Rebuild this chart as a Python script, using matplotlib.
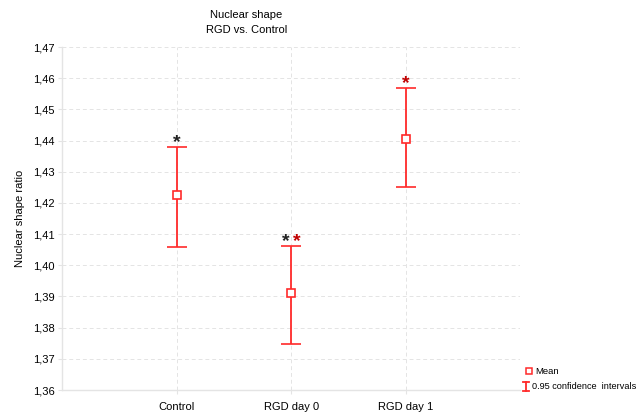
import numpy as np
import matplotlib
matplotlib.use("Agg")
import matplotlib.pyplot as plt
from matplotlib.ticker import FuncFormatter

plt.rcParams['font.family'] = ['Liberation Sans', 'DejaVu Sans']

# values
groups = ["Control", "RGD day 0", "RGD day 1"]
means = [1.4226, 1.3912, 1.4405]
ci_low = [1.4060, 1.3748, 1.4251]
ci_high = [1.4378, 1.4063, 1.4568]
# significance marks above each group: (text, colour)
marks = [[("*", "#222222")],
         [("*", "#222222"), ("*", "#c00000")],
         [("*", "#c00000")]]
y_ticks = [1.36, 1.37, 1.38, 1.39, 1.40, 1.41, 1.42, 1.43, 1.44, 1.45, 1.46, 1.47]

RED = "#ff2a2a"
GRID = "#e4e4e4"

fig = plt.figure(figsize=(6.43, 4.16), dpi=100)
ax = fig.add_axes([0.0964, 0.0625, 0.713, 0.8245])

x = np.arange(len(groups))
m = np.array(means)
yerr = [m - np.array(ci_low), np.array(ci_high) - m]
ax.errorbar(x, m, yerr=yerr, fmt='s', color=RED, ecolor=RED, elinewidth=1.3,
            capsize=7, capthick=1.3, markersize=6, markerfacecolor='white',
            markeredgecolor=RED, markeredgewidth=1.2, zorder=3)

for xi, hi, ms in zip(x, ci_high, marks):
    n = len(ms)
    for j, (txt, col) in enumerate(ms):
        dx = (j - (n - 1) / 2) * 7.5
        ax.annotate(txt, (xi, hi), xytext=(dx, -3), textcoords='offset points',
                    ha='center', va='bottom', fontsize=14, color=col,
                    fontweight='bold')

ax.set_xlim(-1, 3)
ax.set_ylim(1.36, 1.47)
ax.set_xticks(x)
ax.set_xticklabels(groups, fontsize=8)
ax.set_yticks(y_ticks)
ax.yaxis.set_major_formatter(FuncFormatter(lambda v, p: f"{v:.2f}".replace(".", ",")))
ax.tick_params(axis='y', labelsize=8, length=3, color=GRID, pad=2)
ax.tick_params(axis='x', length=3, color=GRID, pad=6)
ax.grid(True, color=GRID, linestyle=(0, (4, 3)), linewidth=0.7)
ax.set_axisbelow(True)
for s in ['top', 'right']:
    ax.spines[s].set_visible(False)
for s in ['left', 'bottom']:
    ax.spines[s].set_color(GRID)
    ax.spines[s].set_linewidth(1.0)

ax.set_ylabel("Nuclear shape ratio", fontsize=8, labelpad=6)
fig.text(0.383, 0.965, "Nuclear shape", ha='center', va='center', fontsize=8)
fig.text(0.383, 0.927, "RGD vs. Control", ha='center', va='center', fontsize=8)

# legend glyphs drawn by hand in figure coordinates
fig.lines.append(plt.Line2D([0.822], [0.108], marker='s', markersize=5,
                            markerfacecolor='white', markeredgecolor=RED,
                            markeredgewidth=1.1, transform=fig.transFigure))
fig.lines.append(plt.Line2D([0.818, 0.818], [0.060, 0.082], color=RED, lw=1.3,
                            transform=fig.transFigure))
fig.lines.append(plt.Line2D([0.813, 0.823], [0.082, 0.082], color=RED, lw=1.3,
                            transform=fig.transFigure))
fig.lines.append(plt.Line2D([0.813, 0.823], [0.060, 0.060], color=RED, lw=1.3,
                            transform=fig.transFigure))
fig.text(0.833, 0.108, "Mean", fontsize=6.8, va='center', ha='left')
fig.text(0.827, 0.071, "0.95 confidence  intervals", fontsize=6.6, va='center', ha='left')

fig.savefig("out.png", dpi=100)
